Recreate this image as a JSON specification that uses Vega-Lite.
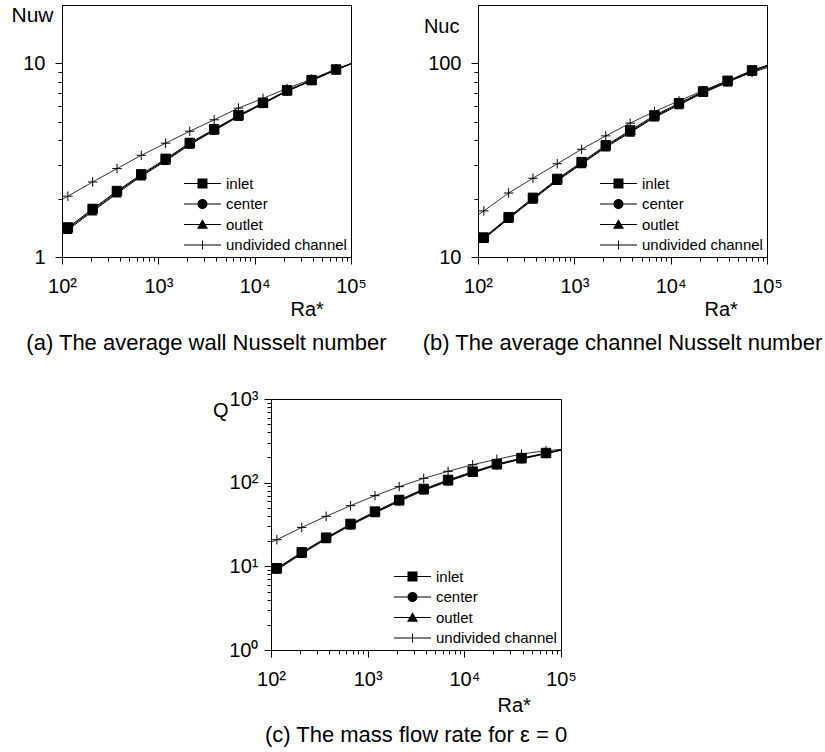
{
  "$schema": "https://vega.github.io/schema/vega-lite/v6.json",
  "padding": {"left": 10, "top": 3, "right": 5, "bottom": 5},
  "background": "white",
  "config": {
    "font": "Liberation Sans",
    "view": {"stroke": "black", "strokeWidth": 1},
    "axis": {"domainColor": "black", "tickColor": "black", "labelColor": "black", "titleColor": "black", "grid": false, "labelFont": "Liberation Sans", "titleFont": "Liberation Sans", "labelFontSize": 20, "titleFontSize": 20, "titleFontWeight": "normal", "domainWidth": 1, "tickWidth": 1, "labelOverlap": false, "labelFlush": false},
    "title": {"font": "Liberation Sans", "fontSize": 22, "fontWeight": "normal", "color": "black", "orient": "bottom", "anchor": "middle", "offset": 14},
    "legend": {"title": null, "offset": 4, "padding": 0, "labelFontSize": 15, "labelFont": "Liberation Sans", "labelColor": "black", "symbolSize": 100, "symbolFillColor": "black", "symbolStrokeColor": "black", "symbolStrokeWidth": 0, "symbolOpacity": 1, "rowPadding": 4.5, "labelOffset": 16, "symbolOffset": 14}
  },
  "datasets": {
    "a": [
      {"s":"undivided channel","Ra":100,"v":1.98},{"s":"undivided channel","Ra":115,"v":2.06},{"s":"undivided channel","Ra":208,"v":2.44},{"s":"undivided channel","Ra":372,"v":2.86},{"s":"undivided channel","Ra":665,"v":3.35},{"s":"undivided channel","Ra":1190,"v":3.87},{"s":"undivided channel","Ra":2120,"v":4.46},{"s":"undivided channel","Ra":3800,"v":5.11},{"s":"undivided channel","Ra":6790,"v":5.87},{"s":"undivided channel","Ra":12200,"v":6.59},{"s":"undivided channel","Ra":21700,"v":7.42},{"s":"undivided channel","Ra":39000,"v":8.29},{"s":"undivided channel","Ra":70000,"v":9.35},{"s":"undivided channel","Ra":100000,"v":9.98},
      {"s":"outlet","Ra":100,"v":1.31},{"s":"outlet","Ra":115,"v":1.38},{"s":"outlet","Ra":208,"v":1.72},{"s":"outlet","Ra":372,"v":2.13},{"s":"outlet","Ra":665,"v":2.61},{"s":"outlet","Ra":1190,"v":3.13},{"s":"outlet","Ra":2120,"v":3.8},{"s":"outlet","Ra":3800,"v":4.49},{"s":"outlet","Ra":6790,"v":5.31},{"s":"outlet","Ra":12200,"v":6.17},{"s":"outlet","Ra":21700,"v":7.17},{"s":"outlet","Ra":39000,"v":8.13},{"s":"outlet","Ra":70000,"v":9.25},{"s":"outlet","Ra":100000,"v":9.92},
      {"s":"center","Ra":100,"v":1.33},{"s":"center","Ra":115,"v":1.4},{"s":"center","Ra":208,"v":1.745},{"s":"center","Ra":372,"v":2.16},{"s":"center","Ra":665,"v":2.64},{"s":"center","Ra":1190,"v":3.17},{"s":"center","Ra":2120,"v":3.84},{"s":"center","Ra":3800,"v":4.53},{"s":"center","Ra":6790,"v":5.35},{"s":"center","Ra":12200,"v":6.21},{"s":"center","Ra":21700,"v":7.21},{"s":"center","Ra":39000,"v":8.16},{"s":"center","Ra":70000,"v":9.27},{"s":"center","Ra":100000,"v":9.94},
      {"s":"inlet","Ra":100,"v":1.35},{"s":"inlet","Ra":115,"v":1.42},{"s":"inlet","Ra":208,"v":1.77},{"s":"inlet","Ra":372,"v":2.19},{"s":"inlet","Ra":665,"v":2.67},{"s":"inlet","Ra":1190,"v":3.21},{"s":"inlet","Ra":2120,"v":3.88},{"s":"inlet","Ra":3800,"v":4.57},{"s":"inlet","Ra":6790,"v":5.39},{"s":"inlet","Ra":12200,"v":6.25},{"s":"inlet","Ra":21700,"v":7.25},{"s":"inlet","Ra":39000,"v":8.19},{"s":"inlet","Ra":70000,"v":9.29},{"s":"inlet","Ra":100000,"v":9.96}
    ],
    "b": [
      {"s":"undivided channel","Ra":100,"v":16.5},{"s":"undivided channel","Ra":115,"v":17.3},{"s":"undivided channel","Ra":208,"v":21.4},{"s":"undivided channel","Ra":372,"v":25.5},{"s":"undivided channel","Ra":665,"v":30.3},{"s":"undivided channel","Ra":1190,"v":36.0},{"s":"undivided channel","Ra":2120,"v":42.2},{"s":"undivided channel","Ra":3800,"v":49.1},{"s":"undivided channel","Ra":6790,"v":56.4},{"s":"undivided channel","Ra":12200,"v":64.0},{"s":"undivided channel","Ra":21700,"v":72.3},{"s":"undivided channel","Ra":39000,"v":81.4},{"s":"undivided channel","Ra":70000,"v":89.5},{"s":"undivided channel","Ra":100000,"v":95.0},
      {"s":"outlet","Ra":100,"v":11.7},{"s":"outlet","Ra":115,"v":12.4},{"s":"outlet","Ra":208,"v":15.75},{"s":"outlet","Ra":372,"v":19.8},{"s":"outlet","Ra":665,"v":24.75},{"s":"outlet","Ra":1190,"v":30.2},{"s":"outlet","Ra":2120,"v":36.8},{"s":"outlet","Ra":3800,"v":43.9},{"s":"outlet","Ra":6790,"v":52.5},{"s":"outlet","Ra":12200,"v":60.9},{"s":"outlet","Ra":21700,"v":70.3},{"s":"outlet","Ra":39000,"v":79.7},{"s":"outlet","Ra":70000,"v":90.5},{"s":"outlet","Ra":100000,"v":96.3},
      {"s":"center","Ra":100,"v":11.8},{"s":"center","Ra":115,"v":12.5},{"s":"center","Ra":208,"v":15.9},{"s":"center","Ra":372,"v":20.0},{"s":"center","Ra":665,"v":25.0},{"s":"center","Ra":1190,"v":30.5},{"s":"center","Ra":2120,"v":37.2},{"s":"center","Ra":3800,"v":44.4},{"s":"center","Ra":6790,"v":53.1},{"s":"center","Ra":12200,"v":61.5},{"s":"center","Ra":21700,"v":70.9},{"s":"center","Ra":39000,"v":80.4},{"s":"center","Ra":70000,"v":91.2},{"s":"center","Ra":100000,"v":97.0},
      {"s":"inlet","Ra":100,"v":11.9},{"s":"inlet","Ra":115,"v":12.6},{"s":"inlet","Ra":208,"v":16.05},{"s":"inlet","Ra":372,"v":20.2},{"s":"inlet","Ra":665,"v":25.3},{"s":"inlet","Ra":1190,"v":30.9},{"s":"inlet","Ra":2120,"v":37.7},{"s":"inlet","Ra":3800,"v":45.0},{"s":"inlet","Ra":6790,"v":53.8},{"s":"inlet","Ra":12200,"v":62.2},{"s":"inlet","Ra":21700,"v":71.6},{"s":"inlet","Ra":39000,"v":81.2},{"s":"inlet","Ra":70000,"v":91.9},{"s":"inlet","Ra":100000,"v":97.6}
    ],
    "c": [
      {"s":"undivided channel","Ra":100,"v":19.4},{"s":"undivided channel","Ra":115,"v":20.8},{"s":"undivided channel","Ra":208,"v":29.2},{"s":"undivided channel","Ra":372,"v":39.6},{"s":"undivided channel","Ra":665,"v":53.1},{"s":"undivided channel","Ra":1190,"v":69.9},{"s":"undivided channel","Ra":2120,"v":89.6},{"s":"undivided channel","Ra":3800,"v":112.7},{"s":"undivided channel","Ra":6790,"v":136.6},{"s":"undivided channel","Ra":12200,"v":164},{"s":"undivided channel","Ra":21700,"v":190},{"s":"undivided channel","Ra":39000,"v":220},{"s":"undivided channel","Ra":70000,"v":241},{"s":"undivided channel","Ra":100000,"v":250},
      {"s":"outlet","Ra":100,"v":8.3},{"s":"outlet","Ra":115,"v":9.1},{"s":"outlet","Ra":208,"v":14.1},{"s":"outlet","Ra":372,"v":21.2},{"s":"outlet","Ra":665,"v":30.9},{"s":"outlet","Ra":1190,"v":43.3},{"s":"outlet","Ra":2120,"v":59.7},{"s":"outlet","Ra":3800,"v":80.9},{"s":"outlet","Ra":6790,"v":103.5},{"s":"outlet","Ra":12200,"v":130.5},{"s":"outlet","Ra":21700,"v":161.5},{"s":"outlet","Ra":39000,"v":191.5},{"s":"outlet","Ra":70000,"v":222},{"s":"outlet","Ra":100000,"v":244},
      {"s":"center","Ra":100,"v":8.5},{"s":"center","Ra":115,"v":9.3},{"s":"center","Ra":208,"v":14.4},{"s":"center","Ra":372,"v":21.6},{"s":"center","Ra":665,"v":31.5},{"s":"center","Ra":1190,"v":44.2},{"s":"center","Ra":2120,"v":60.9},{"s":"center","Ra":3800,"v":82.5},{"s":"center","Ra":6790,"v":105.6},{"s":"center","Ra":12200,"v":133},{"s":"center","Ra":21700,"v":164},{"s":"center","Ra":39000,"v":194},{"s":"center","Ra":70000,"v":224},{"s":"center","Ra":100000,"v":246},
      {"s":"inlet","Ra":100,"v":8.7},{"s":"inlet","Ra":115,"v":9.5},{"s":"inlet","Ra":208,"v":14.7},{"s":"inlet","Ra":372,"v":22.0},{"s":"inlet","Ra":665,"v":32.1},{"s":"inlet","Ra":1190,"v":45.1},{"s":"inlet","Ra":2120,"v":62.1},{"s":"inlet","Ra":3800,"v":84.1},{"s":"inlet","Ra":6790,"v":107.7},{"s":"inlet","Ra":12200,"v":135.5},{"s":"inlet","Ra":21700,"v":166.5},{"s":"inlet","Ra":39000,"v":196.5},{"s":"inlet","Ra":70000,"v":226},{"s":"inlet","Ra":100000,"v":248}
    ]
  },
  "vconcat": [
    {
      "hconcat": [
        {
          "width": 289, "height": 252,
          "data": {"name": "a"},
          "title": {"text": "(a) The average wall Nusselt number"},
          "encoding": {
            "x": {"field": "Ra", "type": "quantitative", "scale": {"type": "log", "domain": [100, 100000], "nice": false},
              "axis": {"title": "Ra*", "values": [100,200,300,400,500,600,700,800,900,1000,2000,3000,4000,5000,6000,7000,8000,9000,10000,20000,30000,40000,50000,60000,70000,80000,90000,100000],
                "labelExpr": "abs(log(datum.value)/LN10 - round(log(datum.value)/LN10)) < 0.001 ? '10' + substring('⁰¹²³⁴⁵', round(log(datum.value)/LN10), round(log(datum.value)/LN10) + 1) : ''",
                "tickSize": {"condition": {"test": "abs(log(datum.value)/LN10 - round(log(datum.value)/LN10)) < 0.001", "value": 7}, "value": 4},
                "labelPadding": 12, "titleAlign": "left", "titleX": 228, "titleY": 58, "titleBaseline": "alphabetic"}},
            "y": {"field": "v", "type": "quantitative", "scale": {"type": "log", "domain": [1, 20], "nice": false},
              "axis": {"title": "Nuw", "values": [1,2,3,4,5,6,7,8,9,10],
                "labelExpr": "abs(log(datum.value)/LN10 - round(log(datum.value)/LN10)) < 0.001 ? '' + datum.value : ''",
                "tickSize": {"condition": {"test": "abs(log(datum.value)/LN10 - round(log(datum.value)/LN10)) < 0.001", "value": 7}, "value": 4},
                "labelPadding": 10, "titleAngle": 0, "titleAlign": "right", "titleBaseline": "middle", "titleX": -9, "titleY": 10, "titleFontSize": 21}}
          },
          "layer": [
            {"transform": [{"filter": "datum.s != 'undivided channel'"}], "mark": {"type": "line", "color": "black", "strokeWidth": 1}, "encoding": {"detail": {"field": "s"}}},
            {"transform": [{"filter": "datum.s == 'undivided channel'"}], "mark": {"type": "line", "color": "black", "strokeWidth": 0.8}, "encoding": {}},
            {"transform": [{"filter": "datum.s == 'undivided channel' && datum.Ra > 100 && datum.Ra < 100000"}], "mark": {"type": "point", "shape": "M-1,0H1M0,-1V1", "filled": false, "stroke": "black", "strokeWidth": 1, "size": 90, "opacity": 1}, "encoding": {}},
            {"transform": [{"filter": "datum.s == 'outlet' && datum.Ra > 100 && datum.Ra < 100000"}], "mark": {"type": "point", "shape": "triangle-up", "filled": true, "color": "black", "size": 90, "opacity": 1}, "encoding": {}},
            {"transform": [{"filter": "datum.s == 'center' && datum.Ra > 100 && datum.Ra < 100000"}], "mark": {"type": "point", "shape": "circle", "filled": true, "color": "black", "size": 90, "opacity": 1}, "encoding": {}},
            {"transform": [{"filter": "datum.s == 'inlet' && datum.Ra > 100 && datum.Ra < 100000"}], "mark": {"type": "point", "shape": "square", "filled": true, "color": "black", "stroke": "black", "strokeWidth": 1, "size": 90, "opacity": 1}, "encoding": {}},
            {"transform": [{"filter": "false"}], "mark": {"type": "point", "filled": true, "color": "black", "opacity": 1},
              "encoding": {"shape": {"field": "s", "scale": {"domain": ["inlet","center","outlet","undivided channel"], "range": ["M-3.7,-0.1H3.7V0.1H-3.7ZM-1,-1H1V1H-1Z","M-3.7,-0.1H-0.97V0.1H-3.7ZM0.97,-0.1H3.7V0.1H0.97ZM-1,0A1,1 0 1,0 1,0A1,1 0 1,0 -1,0Z","M-3.7,-0.1H-0.58V0.1H-3.7ZM0.58,-0.1H3.7V0.1H0.58ZM0,-1.05L1.1,0.85H-1.1Z","M-3.7,-0.1H3.7V0.1H-3.7ZM-0.1,-0.9H0.1V0.9H-0.1Z"]}, "legend": {"orient": "bottom-right"}}}}
          ]
        },
        {
          "width": 289, "height": 252,
          "data": {"name": "b"},
          "title": {"text": "(b) The average channel Nusselt number"},
          "encoding": {
            "x": {"field": "Ra", "type": "quantitative", "scale": {"type": "log", "domain": [100, 100000], "nice": false},
              "axis": {"title": "Ra*", "values": [100,200,300,400,500,600,700,800,900,1000,2000,3000,4000,5000,6000,7000,8000,9000,10000,20000,30000,40000,50000,60000,70000,80000,90000,100000],
                "labelExpr": "abs(log(datum.value)/LN10 - round(log(datum.value)/LN10)) < 0.001 ? '10' + substring('⁰¹²³⁴⁵', round(log(datum.value)/LN10), round(log(datum.value)/LN10) + 1) : ''",
                "tickSize": {"condition": {"test": "abs(log(datum.value)/LN10 - round(log(datum.value)/LN10)) < 0.001", "value": 7}, "value": 4},
                "labelPadding": 12, "titleAlign": "left", "titleX": 226, "titleY": 58, "titleBaseline": "alphabetic"}},
            "y": {"field": "v", "type": "quantitative", "scale": {"type": "log", "domain": [10, 200], "nice": false},
              "axis": {"title": "Nuc", "values": [10,20,30,40,50,60,70,80,90,100],
                "labelExpr": "abs(log(datum.value)/LN10 - round(log(datum.value)/LN10)) < 0.001 ? '' + datum.value : ''",
                "tickSize": {"condition": {"test": "abs(log(datum.value)/LN10 - round(log(datum.value)/LN10)) < 0.001", "value": 7}, "value": 4},
                "labelPadding": 10, "titleAngle": 0, "titleAlign": "right", "titleBaseline": "middle", "titleX": -19, "titleY": 21}}
          },
          "layer": [
            {"transform": [{"filter": "datum.s != 'undivided channel'"}], "mark": {"type": "line", "color": "black", "strokeWidth": 1}, "encoding": {"detail": {"field": "s"}}},
            {"transform": [{"filter": "datum.s == 'undivided channel'"}], "mark": {"type": "line", "color": "black", "strokeWidth": 0.8}, "encoding": {}},
            {"transform": [{"filter": "datum.s == 'undivided channel' && datum.Ra > 100 && datum.Ra < 100000"}], "mark": {"type": "point", "shape": "M-1,0H1M0,-1V1", "filled": false, "stroke": "black", "strokeWidth": 1, "size": 90, "opacity": 1}, "encoding": {}},
            {"transform": [{"filter": "datum.s == 'outlet' && datum.Ra > 100 && datum.Ra < 100000"}], "mark": {"type": "point", "shape": "triangle-up", "filled": true, "color": "black", "size": 90, "opacity": 1}, "encoding": {}},
            {"transform": [{"filter": "datum.s == 'center' && datum.Ra > 100 && datum.Ra < 100000"}], "mark": {"type": "point", "shape": "circle", "filled": true, "color": "black", "size": 90, "opacity": 1}, "encoding": {}},
            {"transform": [{"filter": "datum.s == 'inlet' && datum.Ra > 100 && datum.Ra < 100000"}], "mark": {"type": "point", "shape": "square", "filled": true, "color": "black", "stroke": "black", "strokeWidth": 1, "size": 90, "opacity": 1}, "encoding": {}},
            {"transform": [{"filter": "false"}], "mark": {"type": "point", "filled": true, "color": "black", "opacity": 1},
              "encoding": {"shape": {"field": "s", "scale": {"domain": ["inlet","center","outlet","undivided channel"], "range": ["M-3.7,-0.1H3.7V0.1H-3.7ZM-1,-1H1V1H-1Z","M-3.7,-0.1H-0.97V0.1H-3.7ZM0.97,-0.1H3.7V0.1H0.97ZM-1,0A1,1 0 1,0 1,0A1,1 0 1,0 -1,0Z","M-3.7,-0.1H-0.58V0.1H-3.7ZM0.58,-0.1H3.7V0.1H0.58ZM0,-1.05L1.1,0.85H-1.1Z","M-3.7,-0.1H3.7V0.1H-3.7ZM-0.1,-0.9H0.1V0.9H-0.1Z"]}, "legend": {"orient": "bottom-right"}}}}
          ]
        }
      ],
      "spacing": 34,
      "resolve": {"scale": {"shape": "independent"}, "legend": {"shape": "independent"}}
    },
    {
      "hconcat": [
        {"width": 149, "height": 10, "data": {"values": []}, "mark": {"type": "point"}, "encoding": {}, "view": {"stroke": null}},
        {
          "width": 290, "height": 251,
          "data": {"name": "c"},
          "title": {"text": "(c) The mass flow rate for ε = 0", "offset": 10},
          "encoding": {
            "x": {"field": "Ra", "type": "quantitative", "scale": {"type": "log", "domain": [100, 100000], "nice": false},
              "axis": {"title": "Ra*", "values": [100,200,300,400,500,600,700,800,900,1000,2000,3000,4000,5000,6000,7000,8000,9000,10000,20000,30000,40000,50000,60000,70000,80000,90000,100000],
                "labelExpr": "abs(log(datum.value)/LN10 - round(log(datum.value)/LN10)) < 0.001 ? '10' + substring('⁰¹²³⁴⁵', round(log(datum.value)/LN10), round(log(datum.value)/LN10) + 1) : ''",
                "tickSize": {"condition": {"test": "abs(log(datum.value)/LN10 - round(log(datum.value)/LN10)) < 0.001", "value": 7}, "value": 4},
                "labelPadding": 12, "titleAlign": "left", "titleX": 226, "titleY": 61, "titleBaseline": "alphabetic"}},
            "y": {"field": "v", "type": "quantitative", "scale": {"type": "log", "domain": [1, 1000], "nice": false},
              "axis": {"title": "Q", "values": [1,2,3,4,5,6,7,8,9,10,20,30,40,50,60,70,80,90,100,200,300,400,500,600,700,800,900,1000],
                "labelExpr": "abs(log(datum.value)/LN10 - round(log(datum.value)/LN10)) < 0.001 ? '10' + substring('⁰¹²³⁴⁵', round(log(datum.value)/LN10), round(log(datum.value)/LN10) + 1) : ''",
                "tickSize": {"condition": {"test": "abs(log(datum.value)/LN10 - round(log(datum.value)/LN10)) < 0.001", "value": 7}, "value": 4},
                "labelPadding": 6, "titleAngle": 0, "titleAlign": "right", "titleBaseline": "middle", "titleX": -43, "titleY": 11}}
          },
          "layer": [
            {"transform": [{"filter": "datum.s != 'undivided channel'"}], "mark": {"type": "line", "color": "black", "strokeWidth": 1}, "encoding": {"detail": {"field": "s"}}},
            {"transform": [{"filter": "datum.s == 'undivided channel'"}], "mark": {"type": "line", "color": "black", "strokeWidth": 0.8}, "encoding": {}},
            {"transform": [{"filter": "datum.s == 'undivided channel' && datum.Ra > 100 && datum.Ra < 100000"}], "mark": {"type": "point", "shape": "M-1,0H1M0,-1V1", "filled": false, "stroke": "black", "strokeWidth": 1, "size": 90, "opacity": 1}, "encoding": {}},
            {"transform": [{"filter": "datum.s == 'outlet' && datum.Ra > 100 && datum.Ra < 100000"}], "mark": {"type": "point", "shape": "triangle-up", "filled": true, "color": "black", "size": 90, "opacity": 1}, "encoding": {}},
            {"transform": [{"filter": "datum.s == 'center' && datum.Ra > 100 && datum.Ra < 100000"}], "mark": {"type": "point", "shape": "circle", "filled": true, "color": "black", "size": 90, "opacity": 1}, "encoding": {}},
            {"transform": [{"filter": "datum.s == 'inlet' && datum.Ra > 100 && datum.Ra < 100000"}], "mark": {"type": "point", "shape": "square", "filled": true, "color": "black", "stroke": "black", "strokeWidth": 1, "size": 90, "opacity": 1}, "encoding": {}},
            {"transform": [{"filter": "false"}], "mark": {"type": "point", "filled": true, "color": "black", "opacity": 1},
              "encoding": {"shape": {"field": "s", "scale": {"domain": ["inlet","center","outlet","undivided channel"], "range": ["M-3.7,-0.1H3.7V0.1H-3.7ZM-1,-1H1V1H-1Z","M-3.7,-0.1H-0.97V0.1H-3.7ZM0.97,-0.1H3.7V0.1H0.97ZM-1,0A1,1 0 1,0 1,0A1,1 0 1,0 -1,0Z","M-3.7,-0.1H-0.58V0.1H-3.7ZM0.58,-0.1H3.7V0.1H0.58ZM0,-1.05L1.1,0.85H-1.1Z","M-3.7,-0.1H3.7V0.1H-3.7ZM-0.1,-0.9H0.1V0.9H-0.1Z"]}, "legend": {"orient": "bottom-right"}}}}
          ]
        }
      ],
      "spacing": 0,
      "resolve": {"scale": {"shape": "independent"}, "legend": {"shape": "independent"}}
    }
  ],
  "spacing": 33,
  "resolve": {"scale": {"shape": "independent"}, "legend": {"shape": "independent"}}
}
